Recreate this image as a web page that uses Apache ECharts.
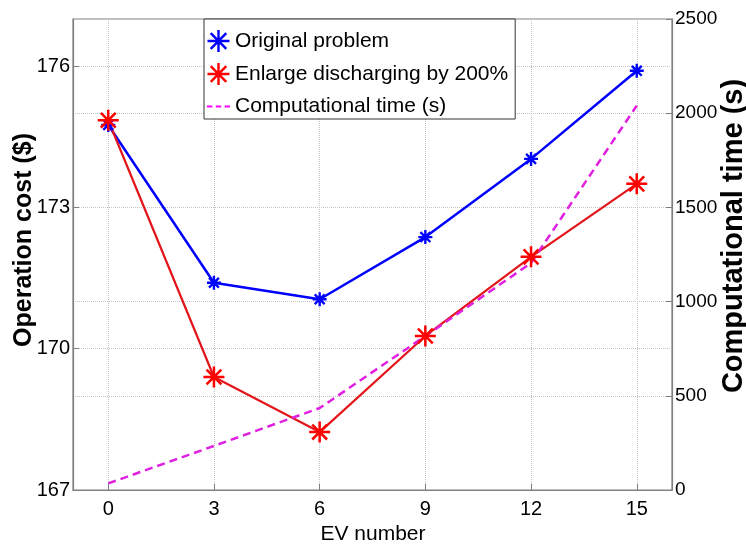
<!DOCTYPE html>
<html>
<head>
<meta charset="utf-8">
<script src="https://cdn.jsdelivr.net/npm/echarts@6/dist/echarts.min.js"></script>
<style>
html,body{margin:0;padding:0;background:#fff;}
#chart{width:746px;height:547px;}
</style>
</head>
<body>
<div id="chart"></div>
<script>
// ---- data ----
const evNumbers = [0, 3, 6, 9, 12, 15];
const originalCost = [174.75, 171.4, 171.05, 172.37, 174.03, 175.9];
const enlargedCost = [174.85, 169.4, 168.23, 170.27, 171.95, 173.5];
const compTime = [35, 234, 435, 817, 1205, 2040];
const xTicks = [0, 3, 6, 9, 12, 15];
const costTicks = [167, 170, 173, 176];
const timeTicks = [0, 500, 1000, 1500, 2000, 2500];
const seriesNames = ['Original problem', 'Enlarge discharging by 200%', 'Computational time (s)'];
const xTitle = 'EV number';
const leftTitle = 'Operation cost ($)';
const rightTitle = 'Computational time (s)';

// asterisk symbol path (8 arms)
function asteriskPath(hw) {
  const c = 10, L = 10;
  let d = '';
  [0, 45, 90, 135].forEach(function (deg) {
    const a = deg * Math.PI / 180, ca = Math.cos(a), sa = Math.sin(a);
    const pts = [[-L, -hw], [L, -hw], [L, hw], [-L, hw]].map(function (p) {
      return [(c + p[0] * ca - p[1] * sa).toFixed(3), (c + p[0] * sa + p[1] * ca).toFixed(3)];
    });
    d += 'M' + pts[0].join(' ') + 'L' + pts[1].join(' ') + 'L' + pts[2].join(' ') + 'L' + pts[3].join(' ') + 'Z';
  });
  return 'path://' + d;
}
const starThick = asteriskPath(1.7);
const starThin = asteriskPath(1.2);
const legendStar = asteriskPath(1.1);
const dashIcon = 'path://M0 0H5.5V2.2H0Z M9 0H14.5V2.2H9Z M18 0H23.5V2.2H18Z';

const pairs = (xs, ys) => xs.map((x, i) => [x, ys[i]]);
const FONT = '"Liberation Sans", Arial, sans-serif';
const gridColor = '#c4c4c4';
const axisColor = '#808080';

const chart = echarts.init(document.getElementById('chart'), null, {renderer: 'canvas'});
chart.setOption({
  animation: false,
  backgroundColor: '#fff',
  grid: {left: 73, right: 74, top: 19, bottom: 57, show: true, borderColor: axisColor, borderWidth: 1.2, backgroundColor: 'transparent'},
  legend: {
    left: 204, top: 19, orient: 'vertical',
    backgroundColor: '#fff', borderColor: '#333', borderWidth: 1,
    padding: [11, 7, 2, 3], itemGap: 11, itemWidth: 23, itemHeight: 22,
    textStyle: {fontFamily: FONT, fontSize: 21, color: '#000'},
    data: [
      {name: seriesNames[0], icon: legendStar},
      {name: seriesNames[1], icon: legendStar},
      {name: seriesNames[2], icon: dashIcon}
    ]
  },
  xAxis: {
    type: 'value', min: -1, max: 16,
    axisLine: {onZero: false, lineStyle: {color: axisColor, width: 1.2}},
    axisTick: {inside: true, length: 6, customValues: xTicks, lineStyle: {color: axisColor}},
    axisLabel: {customValues: xTicks, fontFamily: FONT, fontSize: 20, color: '#000', margin: 9},
    splitLine: {show: true, customValues: xTicks, lineStyle: {color: gridColor, type: 'dotted', width: 1}}
  },
  yAxis: [
    {
      type: 'value', min: 167, max: 177, position: 'left',
      axisLine: {show: true, onZero: false, lineStyle: {color: axisColor, width: 1.2}},
      axisTick: {show: true, inside: true, length: 6, customValues: costTicks, lineStyle: {color: axisColor}},
      axisLabel: {customValues: costTicks, fontFamily: FONT, fontSize: 20, color: '#000', margin: 3},
      splitLine: {show: true, customValues: costTicks, lineStyle: {color: gridColor, type: 'dotted', width: 1}}
    },
    {
      type: 'value', min: 0, max: 2500, interval: 500, position: 'right',
      axisLine: {show: true, onZero: false, lineStyle: {color: axisColor, width: 1.2}},
      axisTick: {show: true, inside: true, length: 6, lineStyle: {color: axisColor}},
      axisLabel: {customValues: timeTicks, formatter: v => String(v), fontFamily: FONT, fontSize: 19, color: '#000', margin: 3},
      splitLine: {show: true, lineStyle: {color: gridColor, type: 'dotted', width: 1}}
    }
  ],
  graphic: [
    {type: 'text', x: 373, y: 534, style: {text: xTitle, font: '21px ' + FONT, fill: '#000', textAlign: 'center', textVerticalAlign: 'middle'}},
    {type: 'text', x: 24, y: 240, rotation: Math.PI / 2, style: {text: leftTitle, font: 'bold 25px ' + FONT, fill: '#000', textAlign: 'center', textVerticalAlign: 'middle'}},
    {type: 'text', x: 734, y: 236, rotation: Math.PI / 2, style: {text: rightTitle, font: 'bold 29px ' + FONT, fill: '#000', textAlign: 'center', textVerticalAlign: 'middle'}}
  ],
  series: [
    {
      name: seriesNames[0], type: 'line', yAxisIndex: 0,
      data: pairs(evNumbers, originalCost),
      symbol: starThick, symbolSize: 14, showAllSymbol: true,
      itemStyle: {color: '#0000ff'},
      lineStyle: {color: '#0000ff', width: 2.5}
    },
    {
      name: seriesNames[1], type: 'line', yAxisIndex: 0,
      data: pairs(evNumbers, enlargedCost),
      symbol: starThin, symbolSize: 21, showAllSymbol: true,
      itemStyle: {color: '#ff0000'},
      lineStyle: {color: '#e3141a', width: 2.2}
    },
    {
      name: seriesNames[2], type: 'line', yAxisIndex: 1,
      data: pairs(evNumbers, compTime),
      symbol: 'none',
      itemStyle: {color: '#ff00ff'},
      lineStyle: {color: '#e020e0', width: 2.5, type: [8, 5]}
    }
  ]
});
</script>
</body>
</html>
